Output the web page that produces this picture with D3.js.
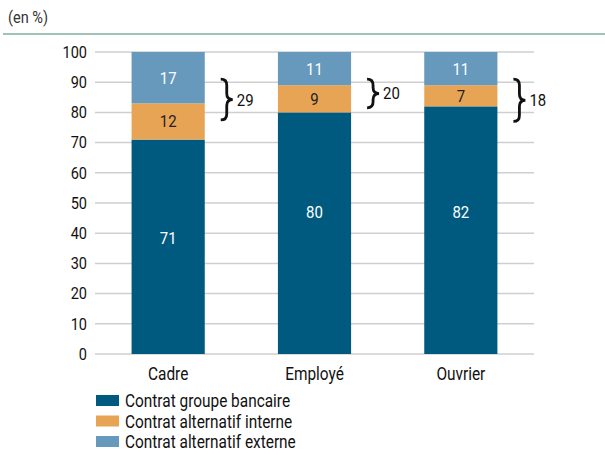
<!DOCTYPE html>
<html><head><meta charset="utf-8">
<script src="https://cdn.jsdelivr.net/npm/d3@7"></script>
<style>
body{margin:0;background:#fff;}
svg text{font-family:Roboto,"Liberation Sans",sans-serif;}
</style></head>
<body><svg id="c" width="605" height="455"></svg>
<script>
const categories = ["Cadre", "Employé", "Ouvrier"];
const seriesNames = ["Contrat groupe bancaire", "Contrat alternatif interne", "Contrat alternatif externe"];
const groupeBancaire = [71, 80, 82];
const alternatifInterne = [12, 9, 7];
const alternatifExterne = [17, 11, 11];
const totalsAlternatif = [29, 20, 18];
const braceTop = [91, 91, 91];
const braceBottom = [77.5, 81.5, 77];
const bottomLabelAt = [38.5, 47, 47];
const yTicks = [0, 10, 20, 30, 40, 50, 60, 70, 80, 90, 100];
const colors = ["#005a80", "#e8a455", "#6699bc"];
const labelColors = ["#ffffff", "#222222", "#ffffff"];

const svg = d3.select("#c");
const x = d3.scaleBand().domain(categories).range([95, 534]).paddingInner(0.5).paddingOuter(0.25);
const y = d3.scaleLinear().domain([0, 100]).range([354, 52]);

svg.append("text").attr("x", 8).attr("y", 23).attr("font-size", 16.5).attr("fill", "#333").text("(en %)");
svg.append("line").attr("x1", 3).attr("x2", 605).attr("y1", 34).attr("y2", 34).attr("stroke", "#9fc4b6").attr("stroke-width", 2);

// grid
svg.append("g").selectAll("line").data(yTicks).join("line")
  .attr("x1", 95).attr("x2", 534).attr("y1", d => y(d)).attr("y2", d => y(d))
  .attr("stroke", "#cfcfcf").attr("stroke-width", 1.5);

const yAxis = svg.append("g").attr("transform", "translate(95,0)")
  .call(d3.axisLeft(y).tickValues(yTicks).tickSize(0).tickPadding(8));
yAxis.select(".domain").remove();
yAxis.selectAll("text").attr("font-size", 16.5).attr("fill", "#111").attr("font-family", null);

const series = [groupeBancaire, alternatifInterne, alternatifExterne];
const rows = categories.map((c, i) => ({cat: c, v: series.map(s => s[i])}));
const stacked = d3.stack().keys([0, 1, 2]).value((d, k) => d.v[k])(rows);

const g = svg.append("g");
stacked.forEach((layer, k) => {
  g.append("g").selectAll("rect").data(layer).join("rect")
    .attr("x", d => x(d.data.cat)).attr("width", x.bandwidth())
    .attr("y", d => y(d[1])).attr("height", d => y(d[0]) - y(d[1]))
    .attr("fill", colors[k]);
  g.append("g").selectAll("text").data(layer).join("text")
    .attr("x", d => x(d.data.cat) + x.bandwidth() / 2)
    .attr("y", (d, i) => y(k === 0 ? bottomLabelAt[i] : (d[0] + d[1]) / 2))
    .attr("dy", "0.35em").attr("text-anchor", "middle")
    .attr("font-size", 17).attr("fill", labelColors[k])
    .text(d => d.data.v[k]);
});

// braces
categories.forEach((c, i) => {
  const x0 = x(c) + x.bandwidth() + 16, w = 12;
  const t = y(braceTop[i]), b = y(braceBottom[i]), m = (t + b) / 2, r = 6;
  const xm = x0 + w / 2;
  const p = `M${x0},${t} Q${xm},${t} ${xm},${t + r} L${xm},${m - r} Q${xm},${m} ${x0 + w},${m} Q${xm},${m} ${xm},${m + r} L${xm},${b - r} Q${xm},${b} ${x0},${b}`;
  svg.append("path").attr("d", p).attr("fill", "none").attr("stroke", "#111").attr("stroke-width", 2.8);
  svg.append("text").attr("x", x0 + w + 4).attr("y", m).attr("dy", "0.35em")
    .attr("font-size", 17).attr("fill", "#111").text(totalsAlternatif[i]);
});

// x labels
svg.append("g").selectAll("text").data(categories).join("text")
  .attr("x", d => x(d) + x.bandwidth() / 2).attr("y", 374).attr("dy", "0.35em")
  .attr("text-anchor", "middle").attr("font-size", 17.5).attr("fill", "#111").text(d => d);

// legend
const lg = svg.append("g").selectAll("g").data(seriesNames).join("g")
  .attr("transform", (d, i) => `translate(96,${395 + i * 20.5})`);
lg.append("rect").attr("width", 23).attr("height", 11).attr("fill", (d, i) => colors[i]);
lg.append("text").attr("x", 29).attr("y", 6).attr("dy", "0.35em").attr("font-size", 17.5).attr("fill", "#111").text(d => d);

// condensed look: narrow all text glyphs horizontally
svg.selectAll("text").each(function () {
  const w = this.getComputedTextLength();
  d3.select(this).attr("textLength", w * 0.88).attr("lengthAdjust", "spacingAndGlyphs");
});
</script></body></html>
